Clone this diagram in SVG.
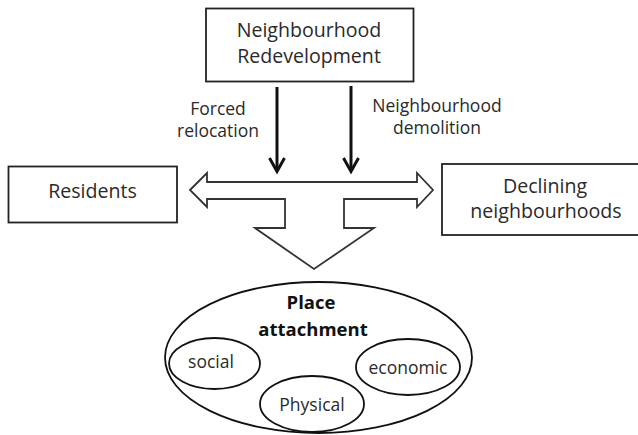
<svg xmlns="http://www.w3.org/2000/svg" width="638" height="435" viewBox="0 0 638 435">
<style>
.box{fill:#fff;stroke:#222;stroke-width:1.8}
.ell{fill:none;stroke:#111;stroke-width:1.8}
.t{font-family:"Open Sans","Liberation Sans",sans-serif;fill:#2a2a2a;text-anchor:middle}
.big{font-size:19.6px}
.lab{font-size:17.5px}
.bold{font-size:18.5px;font-weight:bold;fill:#111}
.arr{fill:none;stroke:#111;stroke-width:3}
.block{fill:#fff;stroke:#333;stroke-width:1.8;stroke-linejoin:miter}
</style>
<rect width="638" height="435" fill="#fff"/>
<g id="redevelopment">
<rect class="box" x="206" y="8.5" width="207.5" height="73"/>
<text class="t big" x="309" y="36.5">Neighbourhood</text>
<text class="t big" x="309" y="63">Redevelopment</text>
</g>
<g id="residents">
<rect class="box" x="8.5" y="166.5" width="168.5" height="56"/>
<text class="t big" x="92.5" y="198">Residents</text>
</g>
<g id="declining">
<rect class="box" x="442" y="164" width="200" height="71"/>
<text class="t big" x="545" y="193">Declining</text>
<text class="t big" x="546" y="218">neighbourhoods</text>
</g>
<g id="place-attachment">
<ellipse class="ell" cx="318.5" cy="357.5" rx="153.5" ry="75.5"/>
<text class="t bold" x="311" y="309">Place</text>
<text class="t bold" x="313" y="336">attachment</text>
</g>
<g id="social">
<ellipse class="ell" cx="214.5" cy="363.5" rx="45.5" ry="25.5"/>
<text class="t lab" x="211" y="368">social</text>
</g>
<g id="economic">
<ellipse class="ell" cx="408" cy="367" rx="52" ry="28"/>
<text class="t lab" x="408" y="374">economic</text>
</g>
<g id="physical">
<ellipse class="ell" cx="312" cy="404" rx="52" ry="28"/>
<text class="t lab" x="312" y="411">Physical</text>
</g>
<g id="connectors">
<polygon class="block" points="190,190 207,173 207,182 417,182 417,173 433,190 417,207 417,199 344,199 344,228 374,228 314,269 255,228 285,228 285,199 207,199 207,207"/>
<line class="arr" x1="277" y1="87" x2="277" y2="171"/>
<polyline class="arr" points="269.5,158 277,171.5 284.5,158"/>
<line class="arr" x1="351" y1="86" x2="351" y2="171"/>
<polyline class="arr" points="343.5,158 351,171.5 358.5,158"/>
<text class="t lab" x="218" y="115">Forced</text>
<text class="t lab" x="218" y="137">relocation</text>
<text class="t lab" x="437" y="112">Neighbourhood</text>
<text class="t lab" x="437" y="134">demolition</text>
</g>
</svg>
